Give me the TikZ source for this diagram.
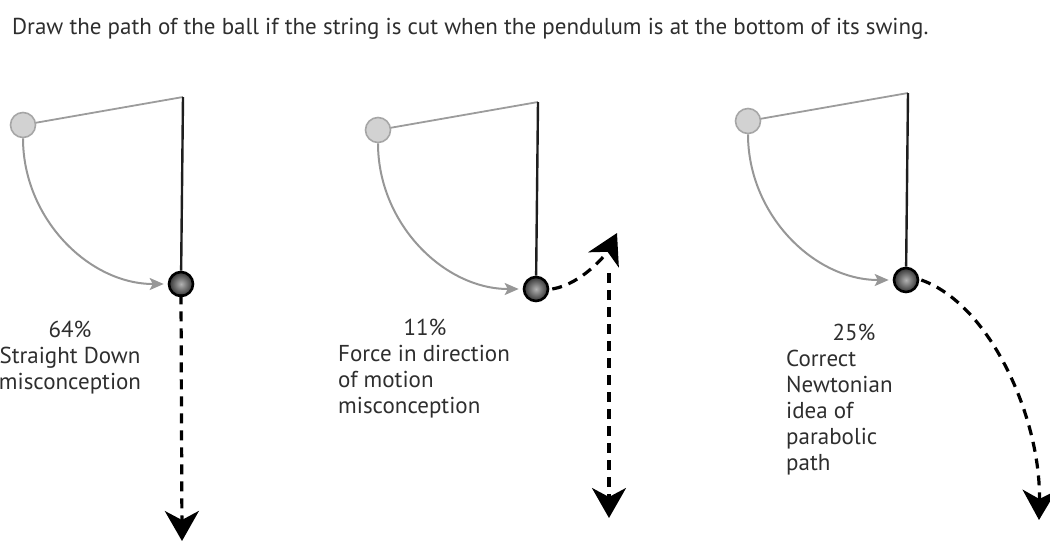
\documentclass[tikz,border=0pt]{standalone}
\usepackage{fontspec}
\setmainfont{PT Sans}
\usetikzlibrary{arrows.meta,positioning}
\definecolor{cordink}{HTML}{1E1E1E}
\definecolor{tiltgray}{HTML}{9C9C9C}
\definecolor{swinggray}{HTML}{979797}
\definecolor{textgray}{HTML}{2E2E2E}

\begin{document}
\begin{tikzpicture}[x=1pt,y=-1pt,>=Stealth,
  oldball/.style={circle,draw=gray!70,fill=gray!35,line width=1.6pt,minimum size=25pt,inner sep=0pt},
  newball/.style={circle,draw=black,line width=2.6pt,minimum size=24pt,inner sep=0pt,inner color=gray!60,outer color=black!80},
  cord/.style={line width=2.4pt,color=cordink},
  tilt/.style={line width=1.8pt,color=tiltgray},
  swing/.style={line width=2pt,color=swinggray,-{Stealth[length=14pt,width=12pt,inset=3pt]}},
  cut/.style={line width=3.2pt,color=black,dash pattern=on 10pt off 7pt,-{Stealth[length=30pt,width=34pt,inset=9pt]}},
  txt/.style={font=\fontsize{23}{26}\selectfont,text=textgray,inner sep=0pt}]
  \useasboundingbox (0,0) rectangle (1050,542);
  \node[txt,anchor=base west] (title) at (12,34) {Draw the path of the ball if the string is cut when the pendulum is at the bottom of its swing.};
  % three pendulums
  \foreach \x/\y/\i in {183/97/1,538/102/2,908/93/3}{
    \coordinate (pv\i) at (\x,\y);
    \node[oldball] (ob\i) at (\x-160,\y+28) {};
    \node[newball] (nb\i) at (\x-2,\y+187) {};
    \draw[tilt] (ob\i) -- (pv\i);
    \draw[cord] (pv\i) -- (nb\i);
    \draw[swing] (ob\i.south) .. controls +(0,80) and +(-75,0) .. ([xshift=-4pt]nb\i.west);
  }
  % paths after the cut
  \coordinate (end1) at (182,541);
  \draw[cut] ([yshift=3pt]nb1.south) -- (end1);
  \coordinate (up2) at (617,233);
  \coordinate (top2) at (609,273);
  \coordinate (end2) at (609,518);
  \draw[cut] ([xshift=3pt]nb2.east) .. controls +(30,-5) and +(-10,20) .. (up2);
  \draw[cut] (top2) -- (end2);
  \coordinate (end3) at (1039,520);
  \draw[cut] ([xshift=2pt]nb3.east) .. controls +(70,25) and +(2,-100) .. (end3);
  % answers (base = last line)
  \node[txt,anchor=base,align=center] (lbl1) at (70,389) {64\%\\Straight Down\\misconception};
  \node[txt,anchor=base] (pct2) at (425,335) {11\%};
  \node[txt,anchor=base west,align=left] (lbl2) at (338,413) {Force in direction\\of motion\\misconception};
  \node[txt,anchor=base] (pct3) at (854,340) {25\%};
  \node[txt,anchor=base west,align=left] (lbl3) at (786,470) {Correct\\Newtonian\\idea of\\parabolic\\path};
\end{tikzpicture}
\end{document}
